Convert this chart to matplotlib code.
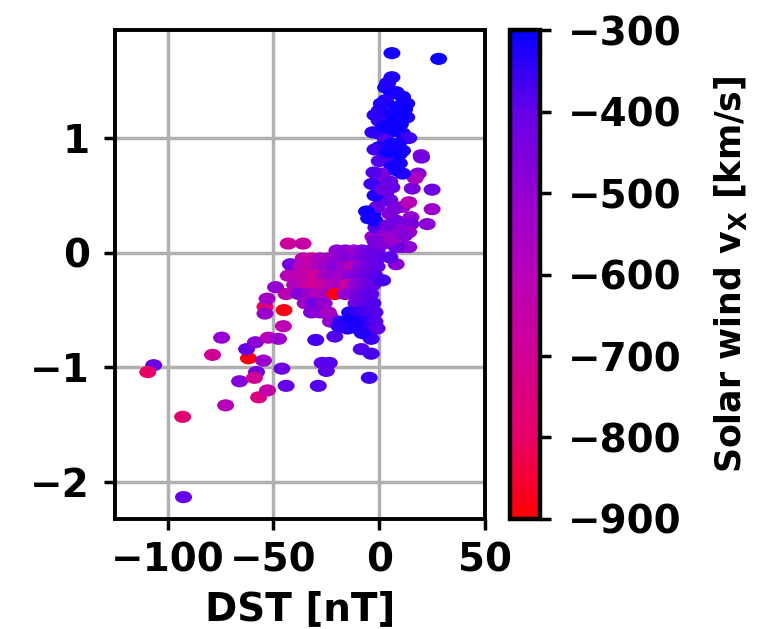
import matplotlib
matplotlib.use("Agg")
import matplotlib.pyplot as plt
from matplotlib.colors import LinearSegmentedColormap
from matplotlib.path import Path
import numpy as np

# DST index [nT], response value, solar wind vx [km/s]
dst = [
    6.0, 28.1, 6.0, -106.6, -109.4, -92.9, -92.5, -74.5, -78.8, -72.6,
    -66.0, -61.8, -62.7, -58.5, -54.7, -58.0, -59.0, -57.0, -52.8, -52.4,
    -47.6, -46.0, -44.0, -45.3, -45.0, -54.0, -54.0, -53.0, -30.0, -21.0,
    -28.8, -27.0, -23.6, -25.0, -4.7, -8.5, -3.8, -3.8, -43.0, -36.0,
    -42.0, -49.0, -31.6, -23.0,
    # dense cluster
    -20, -16, -12, -8, -4, -1,
    -36, -32, -28, -24, -20, -16, -12, -8, -4, -1,
    -41, -37, -33, -29, -25, -21, -17, -13, -9, -5, -1,
    -43, -38, -34, -30, -26, -22, -18, -14, -10, -6, -2,
    -40, -35, -31, -27, -23, -19, -15, -11, -7, -3,
    -44, -38, -33, -29, -25, -21, -16, -12, -8, -4,
    -35, -31, -26, -11, -7, -3,
    -32, -28, -24, -14, -10, -6, -2,
    -23, -18, -14, -10, -6, -2,
    -15, -10, -5, -1, -19, -8,
    # near zero, moving up
    1.6, 8.0, 5.0, 11.0, 14.0, 8.0, -3.0, -1.6, 3.0,
    -3.0, -2.0, -1.0, 5.0, 8.0, 11.0, 14.0, 15.0, 15.0, 22.7, 25.0,
    25.0, 15.6, 18.4, 19.8, 17.0, 20.0, 11.0, 9.5, 11.0, 6.0, 3.0,
    0.0, 1.6, 5.0, 14.0,
    -6.0, -5.0, -2.0, 2.0, 6.0, 9.0, 4.0, 1.0, 7.0, 12.0,
    # upper column
    3.0, 6.0, 11.0, 3.0, 8.0, 13.0, 0.0, 5.0, 13.0, 0.0, 10.0, 6.0,
    0.0, 11.0, 3.0, 14.0, 6.0, 0.0, 3.0, 9.5, 0.0, 6.0, 1.6, -2.0,
    -2.0, -2.0, 10.0, 12.0, 8.0, 4.0,
    -3.0, -2.5, -3.5, 2.0, 4.0, 7.0, 9.0, 1.0, 5.0, 8.0, 2.0, 6.5,
]
ind = [
    1.74, 1.69, 1.53, -0.98, -1.04, -1.43, -2.13, -0.74, -0.89, -1.33,
    -1.12, -0.92, -0.84, -0.78, -0.94, -1.04, -1.09, -1.26, -1.20, -0.74,
    -0.75, -1.01, -1.16, -0.64, -0.50, -0.47, -0.53, -0.40, -0.76, -0.73,
    -1.16, -0.96, -0.96, -1.03, -1.09, -0.84, -0.88, -0.75, 0.08, 0.08,
    -0.10, -0.30, -0.47, -0.56,
    0.02, 0.02, 0.02, 0.02, 0.02, 0.02,
    -0.05, -0.05, -0.05, -0.05, -0.05, -0.05, -0.05, -0.05, -0.05, -0.05,
    -0.12, -0.12, -0.12, -0.12, -0.12, -0.12, -0.12, -0.12, -0.12, -0.12, -0.12,
    -0.20, -0.20, -0.20, -0.20, -0.20, -0.20, -0.20, -0.20, -0.20, -0.20, -0.20,
    -0.28, -0.28, -0.28, -0.28, -0.28, -0.28, -0.28, -0.28, -0.28, -0.28,
    -0.36, -0.36, -0.36, -0.36, -0.36, -0.36, -0.36, -0.36, -0.36, -0.36,
    -0.44, -0.44, -0.44, -0.44, -0.44, -0.44,
    -0.52, -0.52, -0.52, -0.52, -0.52, -0.52, -0.52,
    -0.60, -0.60, -0.60, -0.60, -0.60, -0.60,
    -0.66, -0.66, -0.66, -0.66, -0.64, -0.70,
    -0.24, -0.10, -0.04, 0.05, 0.05, 0.05, 0.14, 0.22, 0.16,
    0.34, 0.28, 0.40, 0.34, 0.28, 0.40, 0.44, 0.31, 0.25, 0.25, 0.38,
    0.55, 0.56, 0.69, 0.85, 0.65, 0.83, 0.89, 0.78, 0.69, 0.57, 0.51,
    0.66, 0.57, 0.46, 0.18,
    0.36, 0.30, 0.10, 0.08, 0.12, 0.20, 0.24, 0.45, 0.38, 0.15,
    1.44, 1.39, 1.36, 1.33, 1.27, 1.30, 1.24, 1.21, 1.18, 1.15, 1.12, 1.06,
    1.04, 1.04, 0.98, 1.00, 0.95, 0.92, 0.83, 0.86, 0.80, 0.75, 0.69, 1.20,
    0.90, 0.50, 1.18, 1.25, 1.40, 1.48,
    1.05, 0.70, 0.60, 1.10, 0.88, 1.08, 0.95, 1.30, 0.62, 0.72, 0.55, 1.15,
]
vx = [
    -320, -310, -330, -420, -800, -780, -400, -500, -700, -600,
    -460, -880, -400, -480, -520, -430, -700, -750, -640, -600,
    -520, -420, -400, -620, -880, -780, -520, -540, -370, -380,
    -380, -390, -380, -390, -360, -380, -370, -360, -680, -650,
    -440, -500, -430, -500,
    -500, -470, -520, -450, -430, -410,
    -620, -660, -560, -540, -500, -460, -480, -440, -420, -400,
    -440, -600, -640, -580, -520, -470, -520, -600, -480, -430, -400,
    -600, -620, -650, -700, -560, -500, -540, -480, -450, -420, -390,
    -580, -640, -700, -680, -600, -560, -680, -500, -440, -400,
    -620, -460, -520, -600, -560, -880, -520, -460, -420, -390,
    -540, -430, -500, -420, -400, -380,
    -460, -480, -560, -330, -350, -370, -380,
    -500, -340, -310, -320, -340, -380,
    -330, -320, -350, -390, -340, -330,
    -370, -480, -390, -500, -480, -420, -520, -380, -500,
    -310, -320, -420, -480, -430, -500, -600, -500, -440, -480, -520,
    -420, -440, -470, -470, -560, -430, -320, -320, -330, -400, -380,
    -480, -460, -420, -520,
    -310, -320, -440, -460, -520, -480, -430, -400, -450, -470,
    -320, -310, -310, -340, -310, -320, -350, -320, -330, -360, -310, -310,
    -340, -320, -380, -360, -310, -330, -360, -310, -380, -320, -460, -340,
    -360, -330, -310, -310, -320, -330,
    -340, -380, -360, -310, -310, -310, -320, -330, -400, -320, -420, -310,
]

x_ticks = [-100, -50, 0, 50]
y_ticks = [-2, -1, 0, 1]
cbar_ticks = [-300, -400, -500, -600, -700, -800, -900]

plt.rcParams["font.family"] = "DejaVu Sans"
plt.rcParams["font.size"] = 28
plt.rcParams["font.weight"] = "bold"
plt.rcParams["axes.labelweight"] = "bold"

# red -> magenta -> blue colour scale
cmap = LinearSegmentedColormap.from_list(
    "red_blue",
    [(1.0, 0.0, 0.0), (0.91, 0.0, 0.41), (0.82, 0.0, 0.58), (0.72, 0.0, 0.72),
     (0.58, 0.0, 0.82), (0.40, 0.0, 0.91), (0.02, 0.0, 1.0)],
)

# slightly wide elliptical marker
circ = Path.unit_circle()
ellipse = Path(circ.vertices * np.array([1.4, 1.0]), circ.codes)

fig = plt.figure(figsize=(7.65, 6.29), dpi=100)
ax = fig.add_axes([0.150, 0.175, 0.484, 0.777])
cax = fig.add_axes([0.667, 0.175, 0.039, 0.777])

ax.set_axisbelow(True)
ax.grid(True, color="#b0b0b0", linewidth=2.5)
sc = ax.scatter(dst, ind, c=vx, cmap=cmap, vmin=-900, vmax=-300,
                s=150, marker=ellipse, linewidths=0)

ax.set_xlim(-125, 50)
ax.set_ylim(-2.32, 1.94)
ax.set_xticks(x_ticks)
ax.set_yticks(y_ticks)
ax.set_xlabel("DST [nT]", labelpad=8)
ax.tick_params(axis="both", length=8, width=2.5)
ax.tick_params(axis="x", pad=8)
ax.tick_params(axis="y", pad=10)
for sp in ax.spines.values():
    sp.set_linewidth(2.8)

cb = fig.colorbar(sc, cax=cax)
cb.set_ticks(cbar_ticks)
cb.outline.set_linewidth(3.2)
cax.tick_params(length=8, width=2.5, pad=12)
cb.set_label("Solar wind v$_\\mathbf{X}$ [km/s]", fontsize=25,
             fontweight="bold", labelpad=22)

fig.savefig("out.png", dpi=100)
